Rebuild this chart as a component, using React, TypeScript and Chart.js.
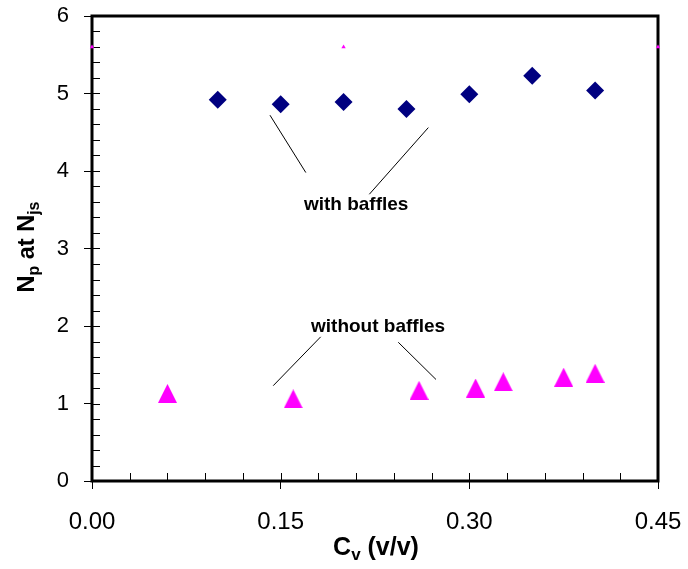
import { useEffect, useRef } from 'react';
import { Chart, registerables } from 'chart.js';

Chart.register(...registerables);

// ---- data ----
const withBafflesX = [0.10, 0.15, 0.20, 0.25, 0.30, 0.35, 0.40];
const withBafflesY = [4.92, 4.86, 4.89, 4.80, 4.99, 5.23, 5.04];
const withoutBafflesX = [0.06, 0.16, 0.26, 0.305, 0.327, 0.375, 0.40];
const withoutBafflesY = [1.13, 1.06, 1.17, 1.20, 1.28, 1.34, 1.39];
const strayX = [0.0, 0.2, 0.45];
const strayY = [5.6, 5.6, 5.6];
const xTickValues = [0, 0.15, 0.30, 0.45];
const yTickValues = [0, 1, 2, 3, 4, 5, 6];
const xMinorStep = 0.03;
const yMinorStep = 0.2;
// annotation leader lines: [x1, y1, x2, y2] in data units
const leaderLines = [
  [0.1415, 4.72, 0.170, 3.98],
  [0.2674, 4.56, 0.2205, 3.70],
  [0.1818, 1.86, 0.1441, 1.23],
  [0.2435, 1.79, 0.2735, 1.31],
];
const labelTexts = ['with baffles', 'without baffles'];
const labelX = [0.210, 0.2274];
const labelY = [3.57, 1.99];

const FONT = '"Liberation Sans", Arial, sans-serif';

function makeTriangle(color: string, w: number, h: number) {
  const c = document.createElement('canvas');
  c.width = w;
  c.height = h;
  const g = c.getContext('2d')!;
  g.fillStyle = color;
  g.beginPath();
  g.moveTo(w / 2, 0);
  g.lineTo(w, h);
  g.lineTo(0, h);
  g.closePath();
  g.fill();
  return c;
}

function drawSubText(ctx: CanvasRenderingContext2D, parts: [string, boolean][], size: number, cx: number, cy: number) {
  const big = `bold ${size}px ${FONT}`;
  const small = `bold ${Math.round(size * 0.66)}px ${FONT}`;
  let total = 0;
  for (const [t, sub] of parts) {
    ctx.font = sub ? small : big;
    total += ctx.measureText(t).width;
  }
  let x = cx - total / 2;
  ctx.textBaseline = 'alphabetic';
  ctx.textAlign = 'left';
  ctx.fillStyle = '#000';
  const base = cy + size * 0.36;
  for (const [t, sub] of parts) {
    ctx.font = sub ? small : big;
    ctx.fillText(t, x, sub ? base + size * 0.2 : base);
    x += ctx.measureText(t).width;
  }
}

const decorPlugin = {
  id: 'decor',
  beforeDatasetsDraw(chart: any) {
    const { ctx, chartArea: a, scales } = chart;
    const xs = scales.x;
    const ys = scales.y;
    ctx.save();
    ctx.strokeStyle = '#000';
    ctx.lineWidth = 1;
    // inward ticks
    ctx.beginPath();
    for (let v = 0; v <= 0.45 + 1e-9; v += xMinorStep) {
      const px = Math.round(xs.getPixelForValue(v)) + 0.5;
      ctx.moveTo(px, a.bottom);
      ctx.lineTo(px, a.bottom - 8);
    }
    for (let v = 0; v <= 6 + 1e-9; v += yMinorStep) {
      const py = Math.round(ys.getPixelForValue(v)) + 0.5;
      ctx.moveTo(a.left, py);
      ctx.lineTo(a.left + 8, py);
    }
    ctx.stroke();
    // frame
    ctx.lineWidth = 3;
    ctx.strokeRect(a.left, a.top, a.right - a.left, a.bottom - a.top);
    ctx.restore();
  },
  afterDatasetsDraw(chart: any) {
    const { ctx, scales } = chart;
    ctx.save();
    ctx.fillStyle = '#000';
    ctx.font = `bold 19px ${FONT}`;
    ctx.textAlign = 'center';
    ctx.textBaseline = 'middle';
    for (let i = 0; i < labelTexts.length; i++) {
      ctx.fillText(labelTexts[i], scales.x.getPixelForValue(labelX[i]), scales.y.getPixelForValue(labelY[i]));
    }
    ctx.restore();
  },
  afterDraw(chart: any) {
    const { ctx } = chart;
    ctx.save();
    drawSubText(ctx, [['C', false], ['v', true], [' (v/v)', false]], 25, 376, 546);
    ctx.translate(26, 247);
    ctx.rotate(-Math.PI / 2);
    drawSubText(ctx, [['N', false], ['p', true], [' at N', false], ['js', true]], 23.5, 0, 0);
    ctx.restore();
  },
};

function noPad(s: any) {
  s.paddingLeft = 0;
  s.paddingRight = 0;
  s.paddingTop = 0;
  s.paddingBottom = 0;
}

export default function App() {
  const ref = useRef<HTMLCanvasElement>(null);
  useEffect(() => {
    if (!ref.current) return;
    const tri = makeTriangle('#FF00FF', 19, 19);
    const lineSets = leaderLines.map((l) => ({
      type: 'line' as const,
      data: [{ x: l[0], y: l[1] }, { x: l[2], y: l[3] }],
      borderColor: '#000',
      borderWidth: 1,
      pointRadius: 0,
      showLine: true,
      fill: false,
    }));
    const chart = new Chart(ref.current, {
      type: 'scatter',
      data: {
        datasets: [
          {
            label: 'with baffles',
            data: withBafflesX.map((x, i) => ({ x, y: withBafflesY[i] })),
            pointStyle: 'rectRot',
            pointRadius: 9,
            backgroundColor: '#000080',
            borderColor: '#000080',
            borderWidth: 0,
            clip: false as any,
          },
          {
            label: 'without baffles',
            data: withoutBafflesX.map((x, i) => ({ x, y: withoutBafflesY[i] })),
            pointStyle: tri as any,
            pointRadius: 10,
            backgroundColor: '#FF00FF',
            borderColor: '#FF00FF',
            borderWidth: 0,
            clip: false as any,
          },
          {
            label: 'stray',
            data: strayX.map((x, i) => ({ x, y: strayY[i] })),
            pointStyle: 'triangle',
            pointRadius: 2.5,
            backgroundColor: '#FF00FF',
            borderColor: '#FF00FF',
            borderWidth: 0,
            clip: false as any,
          },
          ...(lineSets as any[]),
        ],
      },
      options: {
        animation: false,
        responsive: false,
        layout: { padding: { top: 16, right: 30, left: 0, bottom: 0 } },
        plugins: { legend: { display: false }, tooltip: { enabled: false } },
        scales: {
          x: {
            type: 'linear',
            min: 0,
            max: 0.45,
            afterBuildTicks: (s: any) => {
              s.ticks = xTickValues.map((v) => ({ value: v }));
            },
            afterFit: (s: any) => {
              s.height = 88;
              noPad(s);
            },
            ticks: {
              callback: (v: any) => Number(v).toFixed(2),
              font: { family: FONT, size: 24 },
              color: '#000',
              padding: 19,
              maxRotation: 0,
            },
            grid: { drawOnChartArea: false, drawTicks: true, tickLength: 8, color: '#000', lineWidth: 1 },
            border: { display: false },
          },
          y: {
            type: 'linear',
            min: 0,
            max: 6,
            afterBuildTicks: (s: any) => {
              s.ticks = yTickValues.map((v) => ({ value: v }));
            },
            afterFit: (s: any) => {
              s.width = 92;
              noPad(s);
            },
            ticks: {
              callback: (v: any) => String(v),
              font: { family: FONT, size: 22 },
              color: '#000',
              padding: 15,
            },
            grid: { drawOnChartArea: false, drawTicks: true, tickLength: 8, color: '#000', lineWidth: 1 },
            border: { display: false },
          },
        },
      },
      plugins: [decorPlugin],
    });
    return () => chart.destroy();
  }, []);
  return (
    <div style={{ position: 'fixed', left: 0, top: 0, width: 688, height: 569, background: '#fff' }}>
      <canvas ref={ref} width={688} height={569} style={{ width: 688, height: 569, display: 'block' }} />
    </div>
  );
}
